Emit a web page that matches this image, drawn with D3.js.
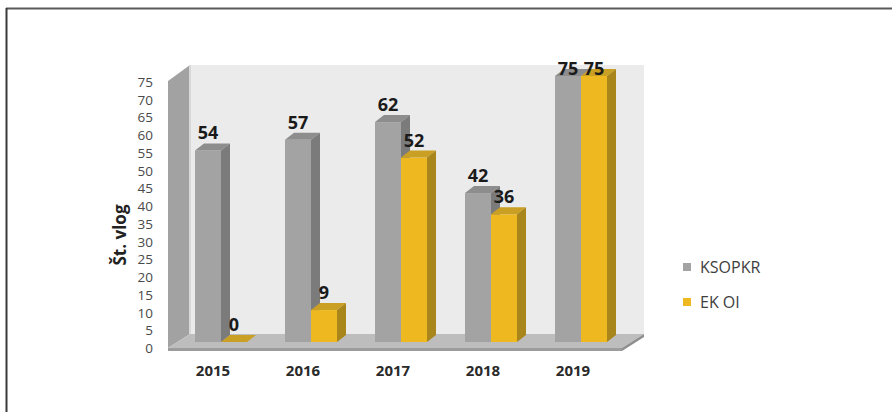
<!DOCTYPE html>
<html><head><meta charset="utf-8">
<script src="https://cdn.jsdelivr.net/npm/d3@7/dist/d3.min.js"></script>
<style>html,body{margin:0;padding:0;background:#fff;}svg{display:block;}</style>
</head><body>
<svg id="c" width="892" height="412"></svg>
<script>
const years = ["2015","2016","2017","2018","2019"];
const seriesNames = ["KSOPKR","EK OI"];
const ksopkr = [54,57,62,42,75];
const ekoi = [0,9,52,36,75];
const yTicks = [0,5,10,15,20,25,30,35,40,45,50,55,60,65,70,75];
const yTitle = "Št. vlog";

const svg = d3.select("#c");
const font = "'Open Sans', 'DejaVu Sans', sans-serif";
const y = d3.scaleLinear().domain([0,75]).range([348,82]);
const x = d3.scaleBand().domain(years).range([168,618]);
const sub = d3.scaleBand().domain(seriesNames).range([0,52]);
const colors = {
  "KSOPKR": {front:"#a3a3a3", side:"#7b7b7b", top:"#8d8d8d"},
  "EK OI": {front:"#eeb820", side:"#a8861c", top:"#c9a024"}
};
const D = {dx:22, dy:-14};   // floor depth
const B = {dx:8, dy:-6};     // bar placement inside depth
const d = {dx:9, dy:-7};     // bar depth

// frame lines
svg.append("line").attr("x1",6).attr("x2",892).attr("y1",8.5).attr("y2",8.5).attr("stroke","#5a5a5a").attr("stroke-width",2);
svg.append("line").attr("x1",6.5).attr("x2",6.5).attr("y1",8).attr("y2",412).attr("stroke","#3a3a3a").attr("stroke-width",2);

const x0 = x.range()[0], x1 = x.range()[1];
const yb = y(0), yt = y(75);
const pts = a => a.map(p=>p.join(",")).join(" ");

// back wall
svg.append("polygon").attr("points", pts([[x0+D.dx, yt+D.dy-3],[x1+D.dx+4, yt+D.dy-3],[x1+D.dx+4, yb+D.dy],[x0+D.dx, yb+D.dy]]))
  .attr("fill","#ebebeb");
// left wall
svg.append("polygon").attr("points", pts([[x0, yt-1],[x0+D.dx, yt+D.dy-3],[x0+D.dx, yb+D.dy],[x0, yb]]))
  .attr("fill","#a2a2a2");
svg.append("line").attr("x1",x0+D.dx).attr("x2",x0+D.dx).attr("y1",yt+D.dy-3).attr("y2",yb+D.dy).attr("stroke","#d8d8d8").attr("stroke-width",2);
// floor
svg.append("polygon").attr("points", pts([[x0, yb],[x0+D.dx, yb+D.dy],[x1+D.dx+4, yb+D.dy],[x1+4, yb]]))
  .attr("fill","#bdbdbd");
svg.append("polygon").attr("points", pts([[x0, yb],[x1+4, yb],[x1+4, yb+3],[x0, yb+3]]))
  .attr("fill","#9c9c9c");
svg.append("polygon").attr("points", pts([[x1+4, yb],[x1+D.dx+4, yb+D.dy],[x1+D.dx+4, yb+D.dy+3],[x1+4, yb+3]]))
  .attr("fill","#8e8e8e");

// y axis labels
svg.append("g").selectAll("text").data(yTicks).join("text")
  .attr("x",153).attr("y",v=>y(v)+5).attr("text-anchor","end")
  .attr("font-family",font).attr("font-size",13.5).attr("fill","#4a4a4a").text(v=>v);
svg.append("text").attr("transform","translate(121,235) rotate(-90)").attr("text-anchor","middle")
  .attr("dominant-baseline","middle").attr("font-family",font).attr("font-weight","bold").attr("font-size",17).attr("fill","#222").text(yTitle);

// x labels
svg.append("g").selectAll("text").data(years).join("text")
  .attr("x",yr=>x(yr)+x.bandwidth()/2).attr("y",376).attr("text-anchor","middle")
  .attr("font-family",font).attr("font-weight","bold").attr("font-size",15).attr("fill","#2a2a2a").text(yr=>yr);

// bars
const bars = [];
years.forEach((yr,i)=>{
  [ksopkr[i], ekoi[i]].forEach((v,j)=>{
    bars.push({year:yr, series:seriesNames[j], value:v});
  });
});
const g = svg.append("g");
bars.forEach(b=>{
  const bx = x(b.year)+x.bandwidth()/2 + B.dx - 26 + sub(b.series);
  const w = sub.bandwidth();
  const base = y(0)+B.dy, top = y(b.value)+B.dy;
  const c = colors[b.series];
  g.append("rect").attr("x",bx).attr("y",top).attr("width",w).attr("height",base-top).attr("fill",c.front);
  g.append("polygon").attr("points",pts([[bx,top],[bx+w,top],[bx+w+d.dx,top+d.dy],[bx+d.dx,top+d.dy]])).attr("fill",c.top);
  g.append("polygon").attr("points",pts([[bx+w,top],[bx+w+d.dx,top+d.dy],[bx+w+d.dx,base+d.dy],[bx+w,base]])).attr("fill",c.side);
  b.lx = bx + w/2; b.ly = Math.max(top + d.dy - 4, 75);
});
svg.append("g").selectAll("text").data(bars).join("text")
  .attr("x",b=>b.lx).attr("y",b=>b.ly).attr("text-anchor","middle")
  .attr("font-family",font).attr("font-weight","bold").attr("font-size",18).attr("fill","#1a1a1a").text(b=>b.value);

// legend
const lg = svg.append("g").selectAll("g").data(seriesNames).join("g")
  .attr("transform",(s,i)=>`translate(683,${263+i*35})`);
lg.append("rect").attr("width",8).attr("height",8).attr("fill",s=>colors[s].front);
lg.append("text").attr("x",17).attr("y",10).attr("font-family",font).attr("font-size",16).attr("fill","#404040").text(s=>s);
</script>
</body></html>
